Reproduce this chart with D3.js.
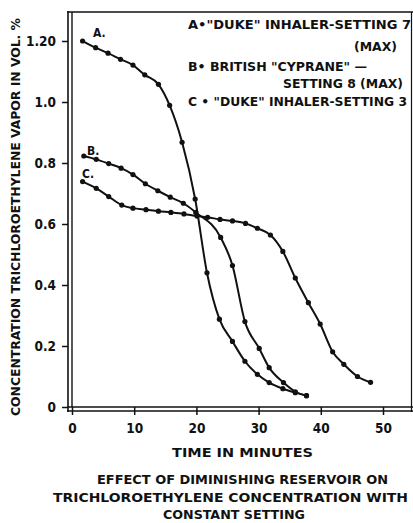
<!DOCTYPE html>
<html>
<head>
<meta charset="utf-8">
<script src="https://cdn.jsdelivr.net/npm/d3@7"></script>
<style>
  body { margin: 0; background: #fff; }
  text { font-family: "DejaVu Sans Condensed", "DejaVu Sans", sans-serif; font-weight: bold; fill: #111; }
</style>
</head>
<body>
<div id="chart"></div>
<script>
const width = 413;
const height = 523;

// curve A: "Duke" inhaler, setting 7 (max)
const timeA = [1.7, 3.8, 5.8, 7.8, 9.8, 11.7, 13.9, 15.7, 17.7, 19.8, 21.7, 23.7, 25.8, 27.8, 29.8, 31.7, 33.9, 35.9, 37.7];
const concA = [1.20, 1.178, 1.16, 1.14, 1.121, 1.089, 1.058, 0.989, 0.868, 0.682, 0.44, 0.288, 0.215, 0.150, 0.107, 0.08, 0.06, 0.047, 0.037];
// curve B: British "Cyprane", setting 8 (max)
const timeB = [1.9, 3.9, 5.9, 7.9, 9.8, 11.8, 13.8, 15.8, 17.9, 19.9, 23.9, 25.8, 27.8, 30.1, 31.7, 34.0, 35.9, 37.7];
const concB = [0.823, 0.812, 0.798, 0.783, 0.762, 0.732, 0.709, 0.688, 0.668, 0.638, 0.556, 0.464, 0.28, 0.192, 0.129, 0.08, 0.05, 0.037];
// curve C: "Duke" inhaler, setting 3
const timeC = [1.7, 3.9, 5.9, 8.0, 9.8, 11.9, 13.9, 15.9, 18.0, 20.1, 21.8, 23.8, 25.8, 27.9, 29.8, 31.9, 33.9, 35.9, 38.0, 39.9, 41.9, 43.7, 45.9, 48.0];
const concC = [0.739, 0.717, 0.69, 0.662, 0.652, 0.647, 0.642, 0.638, 0.633, 0.626, 0.622, 0.615, 0.61, 0.602, 0.586, 0.564, 0.51, 0.423, 0.342, 0.272, 0.181, 0.14, 0.1, 0.081];

const xTicks = [0, 10, 20, 30, 40, 50];
const yTicks = [0, 0.2, 0.4, 0.6, 0.8, 1.0, 1.2];
const yTickLabels = ["0", "0.2", "0.4", "0.6", "0.8", "1.0", "1.20"];

const curveNames = ["A.", "B.", "C."];
const legendLines = [
  'A•"DUKE" INHALER-SETTING 7',
  "(MAX)",
  'B• BRITISH "CYPRANE" —',
  "SETTING 8 (MAX)",
  'C • "DUKE"  INHALER-SETTING 3'
];
const captionLines = [
  "EFFECT OF DIMINISHING RESERVOIR ON",
  "TRICHLOROETHYLENE CONCENTRATION  WITH",
  "CONSTANT SETTING"
];

const x = d3.scaleLinear().domain([0, 50]).range([72, 383]);
const y = d3.scaleLinear().domain([0, 1.2]).range([407, 41]);

const svg = d3.select("#chart").append("svg")
    .attr("width", width)
    .attr("height", height);

svg.append("rect").attr("width", width).attr("height", height).attr("fill", "#fff");

// frame: double left and bottom lines, single top and right
const frame = svg.append("g").attr("stroke", "#111").attr("fill", "none");
frame.append("line").attr("x1", 68).attr("x2", 68).attr("y1", 11).attr("y2", 412).attr("stroke-width", 1.6);
frame.append("line").attr("x1", 72).attr("x2", 72).attr("y1", 12).attr("y2", 407).attr("stroke-width", 1.4);
frame.append("line").attr("x1", 67).attr("x2", 413).attr("y1", 12).attr("y2", 12).attr("stroke-width", 1.6);
frame.append("line").attr("x1", 411.5).attr("x2", 411.5).attr("y1", 12).attr("y2", 412).attr("stroke-width", 1.2);
frame.append("line").attr("x1", 67).attr("x2", 413).attr("y1", 407).attr("y2", 407).attr("stroke-width", 1.4);
frame.append("line").attr("x1", 67).attr("x2", 413).attr("y1", 411).attr("y2", 411).attr("stroke-width", 1.6);

// axes
const xAxis = svg.append("g")
    .attr("transform", "translate(0,411)")
    .call(d3.axisBottom(x).tickValues(xTicks).tickSize(4).tickSizeOuter(0).tickPadding(8));
const yAxis = svg.append("g")
    .attr("transform", "translate(68,0)")
    .call(d3.axisLeft(y).tickValues(yTicks).tickSize(6).tickSizeOuter(0).tickPadding(6)
        .tickFormat((d, i) => yTickLabels[i]));
[xAxis, yAxis].forEach(g => {
  g.select(".domain").remove();
  g.selectAll(".tick line").attr("stroke", "#111").attr("stroke-width", 1.5);
  g.selectAll(".tick text").attr("font-size", 13.5).attr("fill", "#111");
});
xAxis.selectAll(".tick line").attr("y1", -4);
yAxis.selectAll(".tick text").attr("x", -12);

// curves and points
const series = [[timeA, concA], [timeB, concB], [timeC, concC]];
const line = d3.line().x(d => x(d[0])).y(d => y(d[1])).curve(d3.curveMonotoneX);

series.forEach(([t, c], k) => {
  const pts = t.map((v, i) => [v, c[i]]);
  svg.append("path")
      .attr("d", line(pts))
      .attr("fill", "none")
      .attr("stroke", "#111")
      .attr("stroke-width", 2);
  svg.append("g").selectAll("circle")
      .data(pts)
      .join("circle")
      .attr("cx", d => x(d[0]))
      .attr("cy", d => y(d[1]))
      .attr("r", 2.6)
      .attr("fill", "#111");
});

// curve labels
const labelPos = [[93, 37], [87, 155], [82, 178]];
svg.append("g").selectAll("text")
    .data(curveNames)
    .join("text")
    .attr("x", (d, i) => labelPos[i][0])
    .attr("y", (d, i) => labelPos[i][1])
    .attr("font-size", 12)
    .text(d => d);

// legend
const legendPos = [[188, 29, 223], [354, 51, 43], [188, 71, 179], [283, 88, 120], [188, 106, 219]];
svg.append("g").selectAll("text")
    .data(legendLines)
    .join("text")
    .attr("x", (d, i) => legendPos[i][0])
    .attr("y", (d, i) => legendPos[i][1])
    .attr("textLength", (d, i) => legendPos[i][2])
    .attr("lengthAdjust", "spacingAndGlyphs")
    .attr("font-size", 12)
    .text(d => d);

// axis titles
svg.append("text")
    .attr("transform", "translate(20,217) rotate(-90)")
    .attr("text-anchor", "middle")
    .attr("font-size", 13)
    .attr("textLength", 398)
    .attr("lengthAdjust", "spacingAndGlyphs")
    .text("CONCENTRATION TRICHLOROETHYLENE VAPOR IN VOL. %");

svg.append("text")
    .attr("x", 172).attr("y", 457)
    .attr("textLength", 141)
    .attr("lengthAdjust", "spacingAndGlyphs")
    .attr("font-size", 12.5)
    .text("TIME  IN  MINUTES");

const capPos = [[97, 484, 291], [53, 502, 355], [163, 519, 142]];
svg.append("g").selectAll("text")
    .data(captionLines)
    .join("text")
    .attr("x", (d, i) => capPos[i][0])
    .attr("y", (d, i) => capPos[i][1])
    .attr("textLength", (d, i) => capPos[i][2])
    .attr("lengthAdjust", "spacingAndGlyphs")
    .attr("font-size", 12)
    .text(d => d);
</script>
</body>
</html>
